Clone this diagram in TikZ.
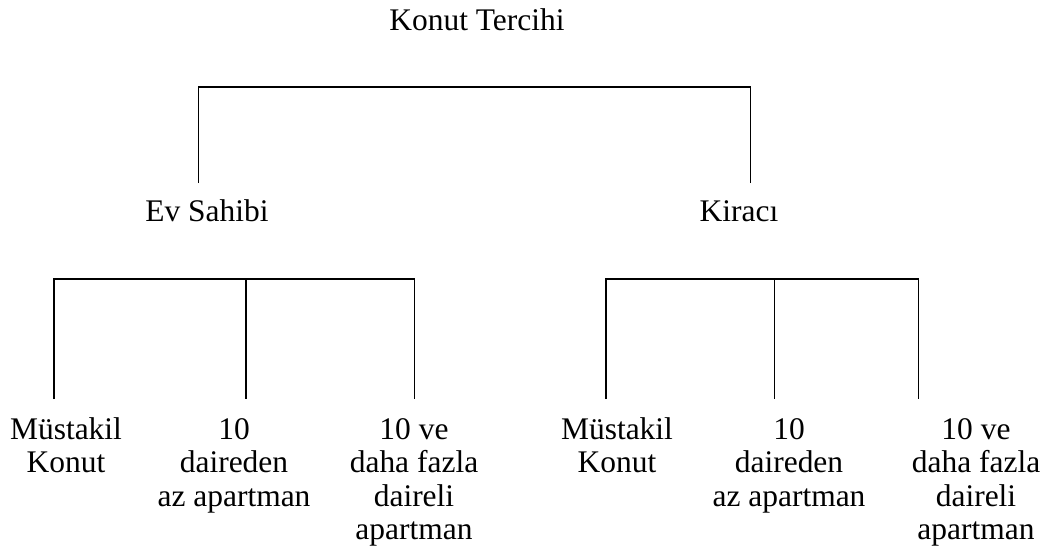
\documentclass[tikz,border=0pt]{standalone}
\usepackage{fontspec}
\setmainfont{Liberation Serif}
\begin{document}
\begin{tikzpicture}[x=0.75pt,y=-0.75pt,
  lbl/.style={anchor=base,inner sep=0pt,font=\fontsize{23.6}{25}\selectfont},
  conn/.style={line width=1pt},
  topconn/.style={line width=1.2pt}]
\useasboundingbox (0,0) rectangle (1056,558);
\newcommand{\stk}[1]{\begin{tabular}[t]{@{}c@{}}#1\end{tabular}}
% labels
\node[lbl] (root) at (477,30.7) {Konut Tercihi};
\node[lbl] (ev) at (207,221.7) {Ev Sahibi};
\node[lbl] (kir) at (739,221.7) {Kiracı};
\node[lbl] (e1) at (66,439.5) {\stk{Müstakil\\Konut}};
\node[lbl] (e2) at (234,439.5) {\stk{10\\daireden\\az apartman}};
\node[lbl] (e3) at (414,439.5) {\stk{10 ve\\daha fazla\\daireli\\apartman}};
\node[lbl] (k1) at (617,439.5) {\stk{Müstakil\\Konut}};
\node[lbl] (k2) at (789,439.5) {\stk{10\\daireden\\az apartman}};
\node[lbl] (k3) at (976,439.5) {\stk{10 ve\\daha fazla\\daireli\\apartman}};
% connector points
\coordinate (tL) at (198.3,86.7);
\coordinate (tR) at (750.7,86.7);
\coordinate (tLb) at (198.3,183);
\coordinate (tRb) at (750.7,183);
\coordinate (eA) at (54,279);   \coordinate (eAb) at (54,399);
\coordinate (eB) at (246,279);  \coordinate (eBb) at (246,399);
\coordinate (eC) at (414.3,279);\coordinate (eCb) at (414.3,399);
\coordinate (kA) at (606,279);  \coordinate (kAb) at (606,399);
\coordinate (kB) at (774.3,279);\coordinate (kBb) at (774.3,399);
\coordinate (kC) at (918.3,279);\coordinate (kCb) at (918.3,399);
% connectors
\draw[conn] (tLb) -- (tL);
\draw[conn] (tRb) -- (tR);
\draw[topconn] (tL) -- (tR);
\draw[conn] (eAb) -- (eA) -- (eC) -- (eCb);
\draw[conn] (eB) -- (eBb);
\draw[conn] (kAb) -- (kA) -- (kC) -- (kCb);
\draw[conn] (kB) -- (kBb);
\end{tikzpicture}
\end{document}
